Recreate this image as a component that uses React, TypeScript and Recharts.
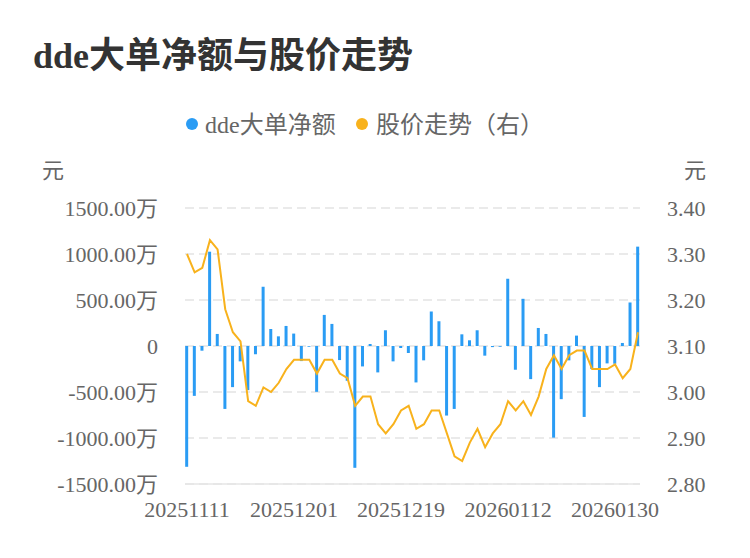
import React from 'react';
import {
  ComposedChart,
  Bar,
  Line,
  XAxis,
  YAxis,
  CartesianGrid,
} from 'recharts';

// Trading days shown on the category axis
const dates = [
  '20251111', '20251112', '20251113', '20251114', '20251117', '20251118', '20251119', '20251120',
  '20251121', '20251124', '20251125', '20251126', '20251127', '20251128', '20251201', '20251202',
  '20251203', '20251204', '20251205', '20251208', '20251209', '20251210', '20251211', '20251212',
  '20251215', '20251216', '20251217', '20251218', '20251219', '20251222', '20251223', '20251224',
  '20251225', '20251226', '20251229', '20251230', '20251231', '20260105', '20260106', '20260107',
  '20260108', '20260109', '20260112', '20260113', '20260114', '20260115', '20260116', '20260119',
  '20260120', '20260121', '20260122', '20260123', '20260126', '20260127', '20260128', '20260129',
  '20260130', '20260202', '20260203', '20260204',
];

// dde large-order net amount, in 万元
const ddeValues = [
  -1313, -542, -51, 1025, 131, -684, -447, -167, -480, -91,
  644, 185, 105, 218, 135, -164, -8, -498, 338, 240,
  -153, -378, -1324, -222, 22, -287, 171, -167, -22, -76,
  -396, -156, 375, 269, -756, -684, 127, 62, 171, -105,
  -12, -8, 731, -258, 513, -360, 196, 131, -996, -578,
  -156, 113, -771, -251, -447, -189, -193, 33, 473, 1080,
];

// closing price, in 元
const prices = [
  3.30, 3.26, 3.27, 3.33, 3.31, 3.18, 3.13, 3.11, 2.98, 2.97,
  3.01, 3.00, 3.02, 3.05, 3.07, 3.07, 3.07, 3.04, 3.07, 3.07,
  3.04, 3.03, 2.97, 2.99, 2.99, 2.93, 2.91, 2.93, 2.96, 2.97,
  2.92, 2.93, 2.96, 2.96, 2.91, 2.86, 2.85, 2.89, 2.92, 2.88,
  2.91, 2.93, 2.98, 2.96, 2.98, 2.95, 2.99, 3.05, 3.08, 3.05,
  3.08, 3.09, 3.09, 3.05, 3.05, 3.05, 3.06, 3.03, 3.05, 3.13,
];

const leftTicks = [-1500, -1000, -500, 0, 500, 1000, 1500];
const rightTicks = [2.8, 2.9, 3.0, 3.1, 3.2, 3.3, 3.4];

const BLUE = '#2a9cf4';
const ORANGE = '#f8b21c';
const FONT = "'Liberation Serif', 'Noto Sans CJK SC', serif";

const chartData = dates.map((date, i) => ({
  date,
  dde: ddeValues[i],
  price: prices[i],
}));

const tickStyle = { fontSize: 22, fill: '#666', fontFamily: FONT };

const App: React.FC = () => {
  return (
    <div
      style={{
        position: 'absolute',
        left: 0,
        top: 0,
        width: 750,
        height: 558,
        background: '#fff',
        fontFamily: FONT,
      }}
    >
      <ComposedChart
        width={750}
        height={558}
        data={chartData}
        margin={{ top: 208, right: 0, bottom: 34, left: 0 }}
      >
        <CartesianGrid
          yAxisId="left"
          vertical={false}
          stroke="#e4e4e4"
          strokeWidth={1.5}
          strokeDasharray="9 5"
        />
        <XAxis
          dataKey="date"
          scale="point"
          padding={{ left: 2, right: 2 }}
          interval={13}
          height={40}
          tickSize={0}
          tickMargin={17}
          tick={tickStyle}
          axisLine={{ stroke: '#e6e6e6', strokeWidth: 1.5 }}
          tickLine={false}
        />
        <YAxis
          yAxisId="left"
          width={185}
          domain={[-1500, 1500]}
          ticks={leftTicks}
          tickFormatter={(v: number) => (v === 0 ? '0' : `${v.toFixed(2)}万`)}
          tick={tickStyle}
          tickSize={0}
          tickMargin={27}
          axisLine={false}
          tickLine={false}
        />
        <YAxis
          yAxisId="right"
          orientation="right"
          width={110}
          domain={[2.8, 3.4]}
          ticks={rightTicks}
          tickFormatter={(v: number) => v.toFixed(2)}
          tick={tickStyle}
          tickSize={0}
          tickMargin={27}
          axisLine={false}
          tickLine={false}
        />
        <Bar
          yAxisId="left"
          dataKey="dde"
          fill={BLUE}
          barSize={3}
          isAnimationActive={false}
        />
        <Line
          yAxisId="right"
          dataKey="price"
          type="linear"
          stroke={ORANGE}
          strokeWidth={2}
          dot={false}
          isAnimationActive={false}
        />
      </ComposedChart>

      {/* title, legend and axis units drawn on top */}
      <svg
        width={750}
        height={558}
        style={{ position: 'absolute', left: 0, top: 0, pointerEvents: 'none' }}
      >
        <text x={33} y={68} fontSize={36} fontWeight="bold" fill="#333" fontFamily={FONT}>
          dde大单净额与股价走势
        </text>
        <circle cx={192} cy={124} r={6} fill={BLUE} />
        <text x={205} y={133} fontSize={24} fill="#666" fontFamily={FONT}>
          dde大单净额
        </text>
        <circle cx={362} cy={124} r={6} fill={ORANGE} />
        <text x={376} y={133} fontSize={24} fill="#666" fontFamily={FONT}>
          股价走势（右）
        </text>
        <text x={42} y={178} fontSize={22} fill="#666" fontFamily={FONT}>
          元
        </text>
        <text x={684} y={178} fontSize={22} fill="#666" fontFamily={FONT}>
          元
        </text>
      </svg>
    </div>
  );
};

export default App;
